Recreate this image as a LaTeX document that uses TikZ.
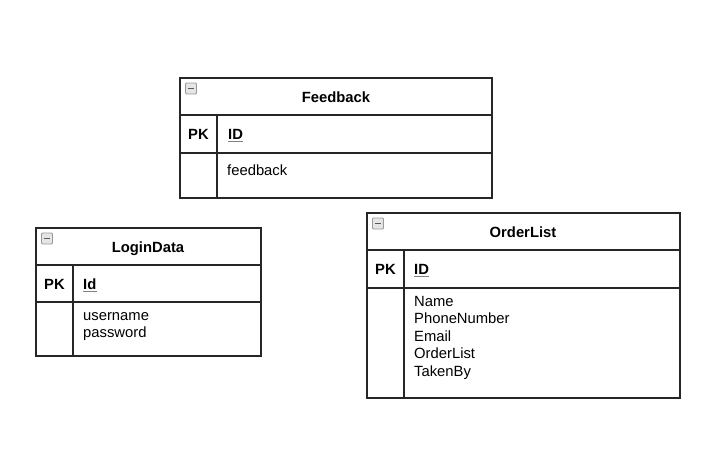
\documentclass[tikz,border=0pt]{standalone}
\usepackage{fontspec}
\setmainfont{Liberation Sans}
\begin{document}
\begin{tikzpicture}[x=1pt,y=-1pt,
  cell/.style={draw=black!85, line width=1.1pt, fill=white, anchor=north west, inner sep=0pt, outer sep=0pt},
  txt/.style={inner sep=0pt, font=\fontsize{14.8pt}{17.5pt}\selectfont},
  btxt/.style={txt, font=\fontsize{14.8pt}{17.5pt}\selectfont\bfseries},
  lines/.style={txt, align=left, anchor=base west},
  uline/.style={draw=black!50, line width=1pt},
  icon/.style={draw=black!40, fill=black!10, line width=0.8pt, minimum width=11pt, minimum height=11pt, inner sep=0pt, rounded corners=1pt},
  iconbar/.style={draw=black!65, line width=1.6pt},
  divider/.style={draw=black!85, line width=1.1pt}
]
\useasboundingbox (0,0) rectangle (717,467);

% ---------- Feedback ----------
\node[cell, minimum width=312pt, minimum height=37pt] (fbT) at (180,78) {};
\node[cell, minimum width=312pt, minimum height=38pt] (fbK) at (180,115) {};
\node[cell, minimum width=312pt, minimum height=45pt] (fbB) at (180,153) {};
\coordinate (fbD1) at (217,115);
\coordinate (fbD2) at (217,198);
\draw[divider] (fbD1) -- (fbD2);
\node[icon] (fbI) at (191,88.5) {};
\draw[iconbar] ([xshift=2.5pt]fbI.west) -- ([xshift=-2.5pt]fbI.east);
\node[btxt, anchor=base] (fbTitle) at (336,102) {Feedback};
\node[btxt, anchor=base] (fbPK) at (198.5,139) {PK};
\node[btxt, anchor=base west] (fbID) at (228,139) {ID};
\draw[uline] ([yshift=-2.2pt]fbID.base west) -- ([yshift=-2.2pt]fbID.base east);
\node[lines] (fbF) at (227,175) {feedback};

% ---------- LoginData ----------
\node[cell, minimum width=225pt, minimum height=37pt] (ldT) at (36,228) {};
\node[cell, minimum width=225pt, minimum height=37pt] (ldK) at (36,265) {};
\node[cell, minimum width=225pt, minimum height=54pt] (ldB) at (36,302) {};
\coordinate (ldD1) at (73,265);
\coordinate (ldD2) at (73,356);
\draw[divider] (ldD1) -- (ldD2);
\node[icon] (ldI) at (47,238.5) {};
\draw[iconbar] ([xshift=2.5pt]ldI.west) -- ([xshift=-2.5pt]ldI.east);
\node[btxt, anchor=base] (ldTitle) at (148,252) {LoginData};
\node[btxt, anchor=base] (ldPK) at (54.5,289) {PK};
\node[btxt, anchor=base west] (ldID) at (83,289) {Id};
\draw[uline] ([yshift=-2.2pt]ldID.base west) -- ([yshift=-2.2pt]ldID.base east);
\node[lines] (ldF) at (83,337.5) {username\\password};

% ---------- OrderList ----------
\node[cell, minimum width=313pt, minimum height=37pt] (olT) at (367,213) {};
\node[cell, minimum width=313pt, minimum height=38pt] (olK) at (367,250) {};
\node[cell, minimum width=313pt, minimum height=110pt] (olB) at (367,288) {};
\coordinate (olD1) at (404,250);
\coordinate (olD2) at (404,398);
\draw[divider] (olD1) -- (olD2);
\node[icon] (olI) at (378,223.5) {};
\draw[iconbar] ([xshift=2.5pt]olI.west) -- ([xshift=-2.5pt]olI.east);
\node[btxt, anchor=base] (olTitle) at (523,237) {OrderList};
\node[btxt, anchor=base] (olPK) at (385.5,274) {PK};
\node[btxt, anchor=base west] (olID) at (414,274) {ID};
\draw[uline] ([yshift=-2.2pt]olID.base west) -- ([yshift=-2.2pt]olID.base east);
\node[lines] (olF) at (414,376) {Name\\PhoneNumber\\Email\\OrderList\\TakenBy};
\end{tikzpicture}
\end{document}
